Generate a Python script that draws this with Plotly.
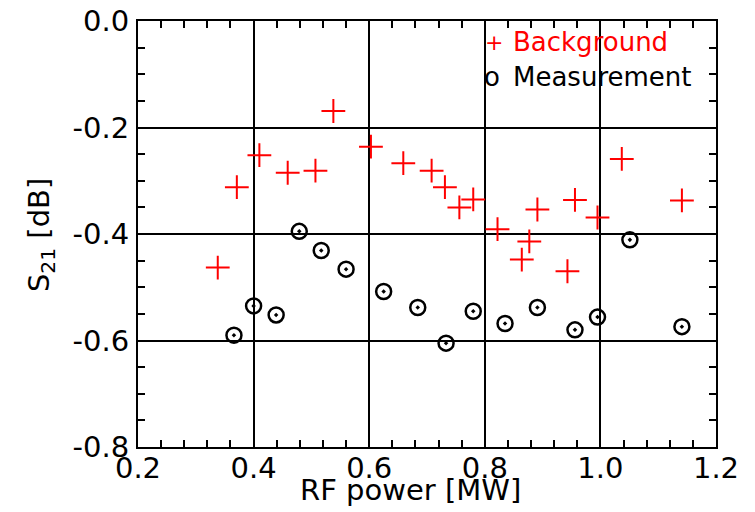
import plotly.graph_objects as go

bg_x = [0.338, 0.371, 0.410, 0.459, 0.507, 0.538, 0.603, 0.659, 0.708, 0.731, 0.756,
        0.780, 0.822, 0.864, 0.877, 0.891, 0.943, 0.956, 0.995, 1.037, 1.141]
bg_y = [-0.463, -0.312, -0.252, -0.285, -0.281, -0.169, -0.236, -0.267, -0.281, -0.312, -0.350,
        -0.335, -0.391, -0.448, -0.414, -0.354, -0.470, -0.336, -0.369, -0.259, -0.337]

meas_x = [0.366, 0.400, 0.439, 0.479, 0.517, 0.560, 0.625, 0.684,
          0.733, 0.780, 0.835, 0.891, 0.956, 0.995, 1.051, 1.141]
meas_y = [-0.590, -0.535, -0.552, -0.395, -0.431, -0.466, -0.508, -0.538,
          -0.605, -0.545, -0.568, -0.538, -0.580, -0.556, -0.411, -0.574]

x_ticks = [0.2, 0.4, 0.6, 0.8, 1.0, 1.2]
x_ticktext = ["0.2", "0.4", "0.6", "0.8", "1.0", "1.2"]
y_ticks = [0.0, -0.2, -0.4, -0.6, -0.8]
y_ticktext = ["0.0", "-0.2", "-0.4", "-0.6", "-0.8"]

FONT = "DejaVu Sans"

# page is offset by the body margin (~8 px), compensate
OX, OY = 8, 9
W, H = 740, 500
ML, MT = 138 - OX, 22 - OY
PW, PH = 578.5, 426

fig = go.Figure()
fig.add_trace(go.Scatter(
    x=bg_x, y=bg_y, mode="markers", name="Background",
    marker=dict(symbol="cross-thin", size=17, color="red",
                line=dict(color="red", width=2)),
))
fig.add_trace(go.Scatter(
    x=meas_x, y=meas_y, mode="markers", name="Measurement",
    marker=dict(symbol="circle-open-dot", size=15, color="black",
                line=dict(color="black", width=2.5)),
))

axis_common = dict(
    showline=True, linecolor="black", linewidth=2, mirror="ticks",
    ticks="inside", ticklen=14, tickwidth=2, tickcolor="black",
    showgrid=True, gridcolor="black", gridwidth=1.5, zeroline=False,
    tickfont=dict(family=FONT, size=29, color="black"),
    automargin=False, ticklabeloverflow="allow",
)

fig.update_xaxes(
    range=[0.2, 1.2], tickvals=x_ticks, ticktext=x_ticktext,
    minor=dict(ticks="inside", dtick=0.04, tick0=0.2, ticklen=7, tickwidth=2,
               tickcolor="black", showgrid=False),
    ticklabelstandoff=-6,
    **axis_common,
)
fig.update_yaxes(
    range=[-0.8, 0.0], tickvals=y_ticks, ticktext=y_ticktext,
    minor=dict(ticks="inside", dtick=0.05, tick0=0.0, ticklen=7, tickwidth=2,
               tickcolor="black", showgrid=False),
    ticklabelstandoff=1,
    **axis_common,
)


def px_x(px):
    return (px - OX - ML) / PW


def px_y(py):
    return 1 - (py - OY - MT) / PH


def note(px, py, text, size, color, xanchor="left", angle=0):
    fig.add_annotation(x=px_x(px), y=px_y(py), xref="paper", yref="paper",
                       xanchor=xanchor, yanchor="middle", text=text, showarrow=False,
                       textangle=angle, font=dict(family=FONT, size=size, color=color))


# axis titles (page pixel positions)
note(411, 491, "RF power [MW]", 29, "black", xanchor="center")
note(41, 236, "S<sub>21</sub> [dB]", 29, "black", xanchor="center", angle=-90)

# legend-like text
note(494.5, 43, "+", 22, "red", xanchor="center")
note(511, 43, "Background", 26, "red")
note(492, 78, "o", 26, "black", xanchor="center")
note(511, 78, "Measurement", 26, "black")

fig.update_layout(
    width=W, height=H,
    margin=dict(l=ML, r=W - ML - PW, t=MT, b=H - MT - PH, autoexpand=False),
    plot_bgcolor="white", paper_bgcolor="white",
    showlegend=False,
)

fig.write_html("out.html")
